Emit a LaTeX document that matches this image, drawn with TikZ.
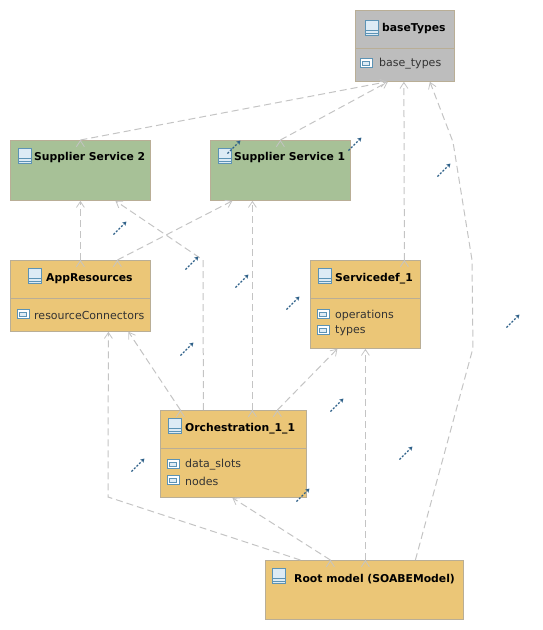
\documentclass[tikz,border=0pt]{standalone}
\usepackage{fontspec}
\setmainfont{DejaVu Sans}
\usetikzlibrary{arrows.meta}

\definecolor{boxgreen}{HTML}{A7C197}
\definecolor{boxorange}{HTML}{EBC677}
\definecolor{boxgray}{HTML}{BDBDBD}
\definecolor{boxline}{HTML}{B9AE96}
\definecolor{depline}{HTML}{C4C4C4}
\definecolor{hintblue}{HTML}{2F6189}
\definecolor{iconblue}{HTML}{5C93B5}
\definecolor{iconfill}{HTML}{DDEBF5}

\tikzset{
    box/.style={draw=boxline, line width=0.8pt, anchor=north west, inner sep=0pt},
    title/.style={anchor=west, inner sep=0pt, yshift=-1pt, font=\fontsize{10.8}{13}\selectfont\bfseries},
    attr/.style={anchor=west, inner sep=0pt, yshift=-1pt, font=\fontsize{11}{13}\selectfont, text=black!80},
    dep/.style={draw=depline, line width=1pt, dash pattern=on 7pt off 4pt,
        -{Straight Barb[length=6pt,width=8pt,line width=0.8pt]}},
    hint/.style={draw=hintblue, line width=1.1pt, dash pattern=on 2pt off 1.6pt,
        -{Stealth[length=4pt,width=4.5pt]}},
    classicon/.pic={
        \draw[iconblue, fill=iconfill, line width=0.7pt] (-6.5,-7.5) rectangle (6.5,7.5);
        \draw[iconblue, line width=0.9pt] (-6.5,2) -- (6.5,2) (-6.5,5) -- (6.5,5);
    },
    attricon/.pic={
        \draw[iconblue, fill=white, line width=0.7pt] (-6,-4.5) rectangle (6,4.5);
        \draw[iconblue, fill=iconfill, line width=0.7pt] (-3.5,-2) rectangle (3.5,2);
    }
}

\begin{document}
\begin{tikzpicture}[x=1pt,y=-1pt]
    \useasboundingbox (0,0) rectangle (543,630);

    % boxes
    \node (base) [box, fill=boxgray, minimum width=99pt, minimum height=71pt] at (355,10) {};
    \node (supplierb) [box, fill=boxgreen, minimum width=140pt, minimum height=60pt] at (10,140) {};
    \node (suppliera) [box, fill=boxgreen, minimum width=140pt, minimum height=60pt] at (210,140) {};
    \node (app) [box, fill=boxorange, minimum width=140pt, minimum height=71pt] at (10,260) {};
    \node (servicedef) [box, fill=boxorange, minimum width=110pt, minimum height=88pt] at (310,260) {};
    \node (orch) [box, fill=boxorange, minimum width=146pt, minimum height=87pt] at (160,410) {};
    \node (root) [box, fill=boxorange, minimum width=198pt, minimum height=59pt] at (265,560) {};

    % compartment lines
    \draw[boxline] (355,48) -- (454,48);
    \draw[boxline] (10,298) -- (150,298);
    \draw[boxline] (310,298) -- (420,298);
    \draw[boxline] (160,448) -- (306,448);

    % titles
    \pic at (372,28) {classicon};
    \node (baset) [title] at (382,28) {baseTypes};
    \pic at (25,156) {classicon};
    \node (supplierbt) [title] at (34,157) {Supplier Service 2};
    \pic at (225,156) {classicon};
    \node (supplierat) [title] at (234,157) {Supplier Service 1};
    \pic at (35,276) {classicon};
    \node (appt) [title] at (46,278) {AppResources};
    \pic at (325,276) {classicon};
    \node (servicedeft) [title] at (335,278) {Servicedef\_1};
    \pic at (175,426) {classicon};
    \node (orcht) [title] at (185,428) {Orchestration\_1\_1};
    \pic at (279,576) {classicon};
    \node (roott) [title] at (294,578) {Root model (SOABEModel)};

    % attributes
    \pic at (366,63) {attricon};
    \node (types) [attr] at (379,63) {base\_types};
    \pic at (23,314) {attricon};
    \node (connectors) [attr] at (34,314) {resourceConnectors};
    \pic at (323,314) {attricon};
    \node (operations) [attr] at (335,314) {operations};
    \pic at (323,330) {attricon};
    \node (deftypes) [attr] at (335,330) {types};
    \pic at (173,464) {attricon};
    \node (slots) [attr] at (185,464) {data\_slots};
    \pic at (173,480) {attricon};
    \node (nodes) [attr] at (185,480) {nodes};

    % dependencies
    \path[dep] (supplierb.north) edge ([xshift=-18pt]base.south);
    \path[dep] (suppliera.north) edge ([xshift=-17pt]base.south);
    \path[dep] ([xshift=39pt]servicedef.north) edge ([xshift=-1pt]base.south);
    \path[dep] (app.north) edge (supplierb.south);
    \path[dep] ([xshift=37pt]app.north) edge ([xshift=-48pt]suppliera.south);
    \path[dep] ([xshift=-53pt]orch.north) edge ([xshift=48pt]app.south);
    \draw[dep] ([xshift=-30pt]orch.north) -- (203,260) -- ([xshift=35pt]supplierb.south);
    \path[dep] ([xshift=19pt]orch.north) edge ([xshift=-28pt]suppliera.south);
    \path[dep] ([xshift=44pt]orch.north) edge ([xshift=-28pt]servicedef.south);
    \draw[dep] ([xshift=-64pt]root.north) -- (108,497) -- ([xshift=28pt]app.south);
    \path[dep] ([xshift=-34pt]root.north) edge ([xshift=-1pt]orch.south);
    \path[dep] ([xshift=1pt]root.north) edge (servicedef.south);
    \draw[dep] ([xshift=51pt]root.north) -- (473,348) -- (472,260) -- (453,142) -- ([xshift=25pt]base.south);

    % hints
    \foreach \x/\y in {120/228,192/263,242/281,293/303,187/349,337/405,406/453,
        138/465,303/495,444/170,513/321,355/144,234/147}
        \draw[hint] (\x-6.5,\y+6.5) -- (\x+6.5,\y-6.5);
\end{tikzpicture}
\end{document}
